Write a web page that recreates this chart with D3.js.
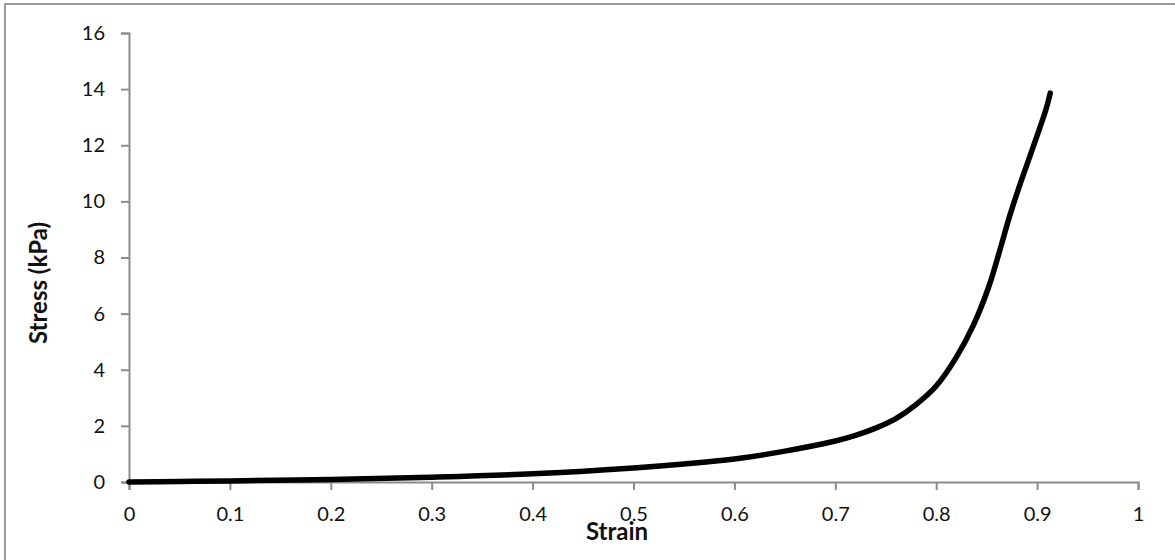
<!DOCTYPE html>
<html>
<head>
<meta charset="utf-8">
<script src="https://cdn.jsdelivr.net/npm/d3@7"></script>
<style>
html,body{margin:0;padding:0;background:#fff;}
svg{display:block;}
</style>
</head>
<body>
<svg id="chart" width="1175" height="560"></svg>
<script>
const strain = [0, 0.05, 0.1, 0.2, 0.3, 0.4, 0.5, 0.55, 0.6, 0.65, 0.7, 0.72, 0.74, 0.76, 0.78, 0.8, 0.82, 0.837, 0.852, 0.863, 0.873, 0.883, 0.893, 0.902, 0.909, 0.913];
const stress = [0, 0.02, 0.04, 0.09, 0.17, 0.29, 0.5, 0.64, 0.82, 1.1, 1.46, 1.66, 1.92, 2.26, 2.76, 3.42, 4.45, 5.6, 6.95, 8.25, 9.5, 10.6, 11.62, 12.55, 13.3, 13.86];
const xTicks = [0, 0.1, 0.2, 0.3, 0.4, 0.5, 0.6, 0.7, 0.8, 0.9, 1];
const yTicks = [0, 2, 4, 6, 8, 10, 12, 14, 16];
const xTitle = "Strain";
const yTitle = "Stress (kPa)";

const svg = d3.select("#chart");
const font = "Lato, 'Open Sans', sans-serif";
const axisColor = "#8c8c8c";

svg.append("rect").attr("x", 5).attr("y", 4).attr("width", 1180).attr("height", 570)
  .attr("fill", "none").attr("stroke", "#9a9a9a").attr("stroke-width", 2);

const x = d3.scaleLinear().domain([0, 1]).range([129, 1138]);
const y = d3.scaleLinear().domain([0, 16]).range([482, 33]);

const xAxis = svg.append("g").attr("transform", "translate(0,482)")
  .call(d3.axisBottom(x).tickValues(xTicks).tickSize(8).tickPadding(17).tickFormat(d => String(d)));
const yAxis = svg.append("g").attr("transform", "translate(129,0)")
  .call(d3.axisLeft(y).tickValues(yTicks).tickSize(8).tickPadding(16).tickFormat(d => String(d)));

[xAxis, yAxis].forEach(g => {
  g.select(".domain").attr("stroke", axisColor).attr("stroke-width", 2);
  g.selectAll(".tick line").attr("stroke", axisColor).attr("stroke-width", 2);
  g.selectAll(".tick text").attr("fill", "#111").style("font-family", font).style("font-size", "20px");
});

const pts = strain.map((s, i) => [s, stress[i]]);
svg.append("path").datum(pts)
  .attr("fill", "none").attr("stroke", "#000").attr("stroke-width", 5.5)
  .attr("stroke-linecap", "round").attr("stroke-linejoin", "round")
  .attr("d", d3.line().x(d => x(d[0])).y(d => y(d[1])).curve(d3.curveCatmullRom.alpha(0.5)));

svg.append("text").attr("x", 617).attr("y", 540).attr("text-anchor", "middle")
  .style("font-family", font).style("font-weight", "bold").style("font-size", "24px").attr("fill", "#111")
  .text(xTitle);

svg.append("text").attr("transform", "translate(47,283) rotate(-90)").attr("text-anchor", "middle")
  .style("font-family", font).style("font-weight", "bold").style("font-size", "24px").attr("fill", "#111")
  .text(yTitle);
</script>
</body>
</html>
